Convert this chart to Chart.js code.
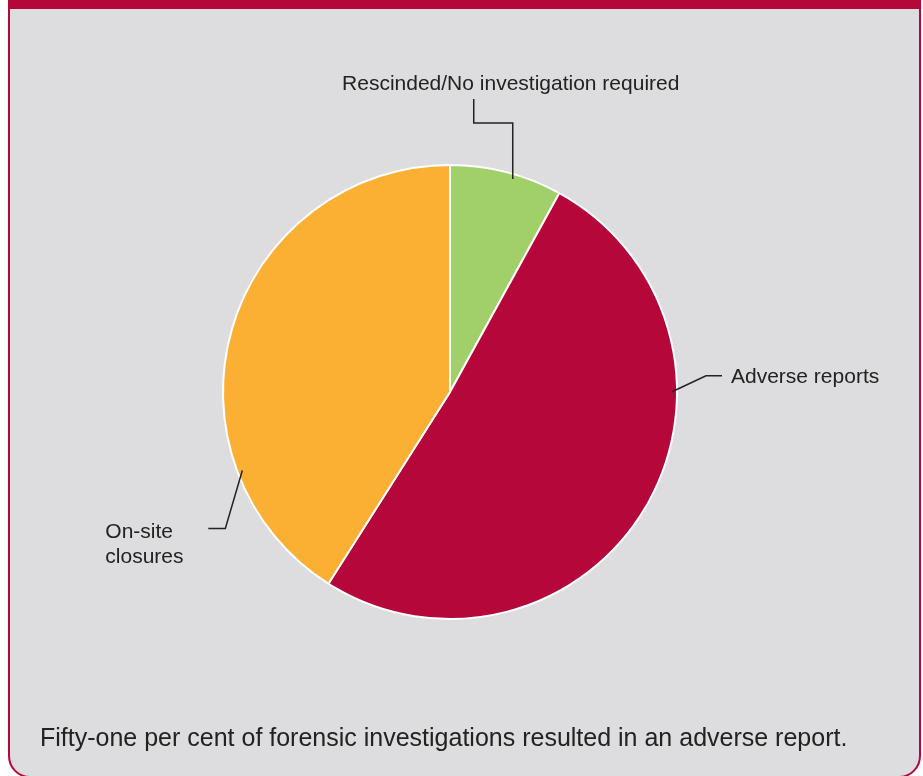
<!DOCTYPE html>
<html>
<head>
<meta charset="utf-8">
<script src="https://cdn.jsdelivr.net/npm/chart.js@4"></script>
<style>
  html, body { margin: 0; padding: 0; background: #fff; }
  #page { position: relative; width: 923px; height: 776px; overflow: hidden; font-family: "Liberation Sans", Arial, Helvetica, sans-serif; }
  #frame {
    position: absolute; left: 8px; top: 0; width: 909px; height: 767px;
    background: #dddcde; border: 2.5px solid #b5073a; border-top: 9px solid #b5073a;
    border-radius: 0 0 22px 22px; box-sizing: content-box;
  }
  #caption { position: absolute; left: 40px; top: 723px; font-size: 25px; color: #222; white-space: nowrap; }
  #chartWrap { position: absolute; left: 0; top: 0; width: 923px; height: 776px; }
</style>
</head>
<body>
<div id="page">
  <div id="frame"></div>
  <div id="chartWrap"><canvas id="pieChart"></canvas></div>
  <div id="caption">Fifty-one per cent of forensic investigations resulted in an adverse report.</div>
</div>
<script>
const categories = ['Rescinded/No investigation required', 'Adverse reports', 'On-site closures'];
const shares = [8, 51, 41];
const sliceColors = ['#a1cf69', '#b5073a', '#fbb034'];

// callout style per slice: where on the arc the leader starts and how it bends
const callouts = [
  { at: 0.57, path: [[0, -56], [-39, -56], [-39, -80]], text: ['Rescinded/No investigation required'], align: 'center', tx: -2, ty: -95 },
  { at: 0.333, path: [[34, -16], [50, -16]], text: ['Adverse reports'], align: 'left', tx: 59, ty: -15 },
  { at: 0.25, path: [[-17, 58], [-34, 58]], text: ['On-site', 'closures'], align: 'left', tx: -137, ty: 62 }
];

const leaderPlugin = {
  id: 'leaders',
  afterDraw(chart) {
    const ctx = chart.ctx;
    const arcs = chart.getDatasetMeta(0).data;
    ctx.save();
    ctx.strokeStyle = '#222';
    ctx.lineWidth = 1.5;
    ctx.fillStyle = '#222';
    ctx.font = '21px "Liberation Sans", Arial, sans-serif';
    ctx.textBaseline = 'middle';
    arcs.forEach((arc, i) => {
      const c = callouts[i];
      const a = arc.startAngle + (arc.endAngle - arc.startAngle) * c.at;
      const r = arc.outerRadius - 5;
      const x0 = arc.x + Math.cos(a) * r;
      const y0 = arc.y + Math.sin(a) * r;
      ctx.beginPath();
      ctx.moveTo(x0, y0);
      c.path.forEach(p => ctx.lineTo(x0 + p[0], y0 + p[1]));
      ctx.stroke();
      ctx.textAlign = c.align;
      c.text.forEach((line, k) => ctx.fillText(line, x0 + c.tx, y0 + c.ty + k * 25));
    });
    ctx.restore();
  }
};

new Chart(document.getElementById('pieChart'), {
  type: 'pie',
  data: {
    labels: categories,
    datasets: [{
      data: shares,
      backgroundColor: sliceColors,
      borderColor: '#ffffff',
      borderWidth: 2,
      hoverOffset: 0
    }]
  },
  options: {
    responsive: true,
    maintainAspectRatio: false,
    animation: false,
    layout: { padding: { left: 222, right: 245, top: 164, bottom: 156 } },
    plugins: {
      legend: { display: false },
      tooltip: { enabled: false }
    }
  },
  plugins: [leaderPlugin]
});
</script>
</body>
</html>
